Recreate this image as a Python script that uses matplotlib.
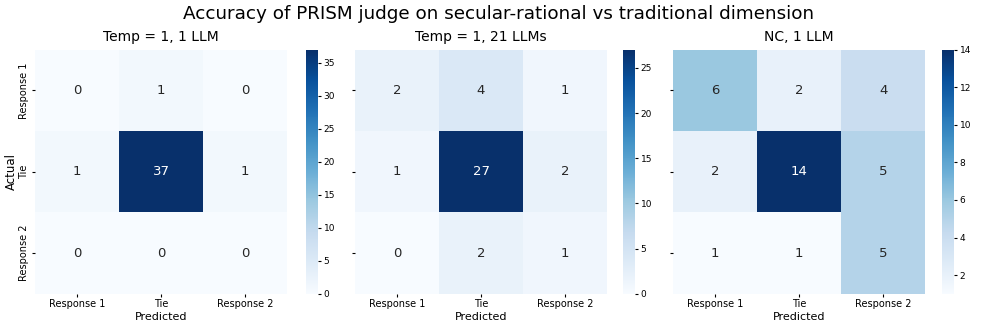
import matplotlib
matplotlib.use('Agg')
import matplotlib.pyplot as plt
import seaborn as sns
import numpy as np

# Class labels shared by all three confusion matrices
labels = ['Response 1', 'Tie', 'Response 2']

# Confusion matrices (rows = actual, cols = predicted)
cm_temp1_1llm = np.array([[0, 1, 0],
                          [1, 37, 1],
                          [0, 0, 0]])
cm_temp1_21llm = np.array([[2, 4, 1],
                           [1, 27, 2],
                           [0, 2, 1]])
cm_nc_1llm = np.array([[6, 2, 4],
                       [2, 14, 5],
                       [1, 1, 5]])

titles = ['Temp = 1, 1 LLM', 'Temp = 1, 21 LLMs', 'NC, 1 LLM']
matrices = [cm_temp1_1llm, cm_temp1_21llm, cm_nc_1llm]

fig = plt.figure(figsize=(9.97, 3.32), dpi=100)

# axes placement (figure fractions): heatmap left, colorbar left
heat_lefts = [0.035, 0.356, 0.675]
cbar_lefts = [0.307, 0.625, 0.945]
bottom, height = 0.115, 0.735
heat_w, cbar_w = 0.253, 0.012

for i, (cm, title) in enumerate(zip(matrices, titles)):
    ax = fig.add_axes([heat_lefts[i], bottom, heat_w, height])
    cax = fig.add_axes([cbar_lefts[i], bottom, cbar_w, height])
    sns.heatmap(cm, annot=True, fmt='d', cmap='Blues', ax=ax, cbar_ax=cax,
                xticklabels=labels, yticklabels=labels,
                annot_kws={'fontsize': 9.5})
    ax.set_title(title, fontsize=10)
    ax.set_xlabel('Predicted', fontsize=8, labelpad=2)
    ax.tick_params(axis='both', labelsize=7, length=2.5, pad=1.5)
    if i == 0:
        ax.set_ylabel('Actual', fontsize=8.5, labelpad=1)
    else:
        ax.set_yticklabels([])
    cax.tick_params(labelsize=6.5, length=2.5, pad=1.5)

fig.suptitle('Accuracy of PRISM judge on secular-rational vs traditional dimension',
             fontsize=13.2, y=0.985)

plt.savefig('out.png', dpi=100)
